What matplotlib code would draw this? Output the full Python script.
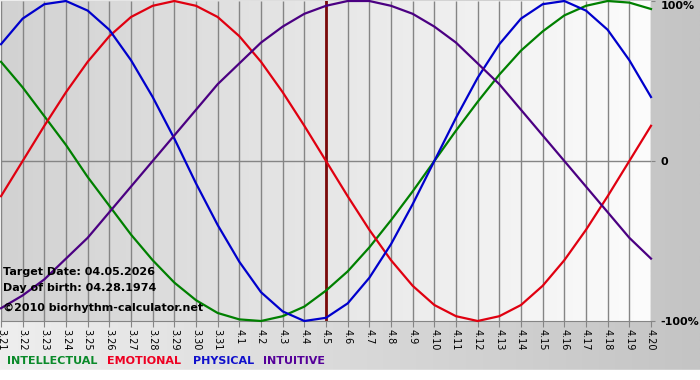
import numpy as np
import matplotlib.pyplot as plt
from matplotlib.colors import LinearSegmentedColormap

# days shown on the x axis (3.21 .. 4.20)
days = ['3.21', '3.22', '3.23', '3.24', '3.25', '3.26', '3.27', '3.28', '3.29', '3.30', '3.31',
        '4.1', '4.2', '4.3', '4.4', '4.5', '4.6', '4.7', '4.8', '4.9', '4.10',
        '4.11', '4.12', '4.13', '4.14', '4.15', '4.16', '4.17', '4.18', '4.19', '4.20']

# cycle values, -1 .. 1 (one per day)
intellectual = [0.62, 0.46, 0.28, 0.10, -0.10, -0.28, -0.46, -0.62, -0.76, -0.87, -0.95,
                -0.99, -1.00, -0.97, -0.91, -0.81, -0.69, -0.54, -0.37, -0.19, 0.00,
                0.19, 0.37, 0.54, 0.69, 0.81, 0.91, 0.97, 1.00, 0.99, 0.95]
emotional = [-0.22, 0.00, 0.22, 0.43, 0.62, 0.78, 0.90, 0.97, 1.00, 0.97, 0.90,
             0.78, 0.62, 0.43, 0.22, 0.00, -0.22, -0.43, -0.62, -0.78, -0.90,
             -0.97, -1.00, -0.97, -0.90, -0.78, -0.62, -0.43, -0.22, 0.00, 0.22]
physical = [0.73, 0.89, 0.98, 1.00, 0.94, 0.82, 0.63, 0.40, 0.14, -0.14, -0.40,
            -0.63, -0.82, -0.94, -1.00, -0.98, -0.89, -0.73, -0.52, -0.27, 0.00,
            0.27, 0.52, 0.73, 0.89, 0.98, 1.00, 0.94, 0.82, 0.63, 0.40]
intuitive = [-0.92, -0.84, -0.74, -0.61, -0.48, -0.32, -0.16, 0.00, 0.16, 0.32, 0.48,
             0.61, 0.74, 0.84, 0.92, 0.97, 1.00, 1.00, 0.97, 0.92, 0.84,
             0.74, 0.61, 0.48, 0.32, 0.16, 0.00, -0.16, -0.32, -0.48, -0.61]

target_day = '4.5'
info_lines = ['Target Date: 04.05.2026', 'Day of birth: 04.28.1974', '\u00a92010 biorhythm-calculator.net']
legend_names = ['INTELLECTUAL', 'EMOTIONAL', 'PHYSICAL', 'INTUITIVE']

W, H = 700, 380
fig = plt.figure(figsize=(W / 100, H / 100), dpi=100)

# outer background: light on the left, gray on the right, white strip at bottom
bg = fig.add_axes([0, 0, 1, 1])
bg.axis('off')
outer = LinearSegmentedColormap.from_list('outer', ['#eeeeee', '#c4c4c4'])
bg.imshow(np.linspace(0, 1, 256)[None, :], extent=[0, 1, 0, 1], aspect='auto', cmap=outer)
bg.axhspan(0, 10 / H, color='white')
bg.set_xlim(0, 1)
bg.set_ylim(0, 1)

ax = fig.add_axes([1 / W, 59 / H, 650 / W, 320 / H])
x = np.arange(len(days))
ax.set_xlim(0, len(days) - 1)
ax.set_ylim(-1, 1)

inner = LinearSegmentedColormap.from_list('inner', ['#d2d2d2', '#fcfcfc'])
ax.imshow(np.linspace(0, 1, 256)[None, :], extent=[0, len(days) - 1, -1, 1],
          aspect='auto', cmap=inner, zorder=0)

ax.vlines(x, -1, 1, color='#858585', lw=1, zorder=1)
ax.axhline(0, color='#858585', lw=1, zorder=1)
ax.axvline(days.index(target_day), color='#7a0a0a', lw=2, zorder=2)

ax.plot(x, intellectual, color='#008000', lw=1.6, zorder=3, clip_on=False)
ax.plot(x, emotional, color='#e00010', lw=1.6, zorder=3, clip_on=False)
ax.plot(x, physical, color='#0000cc', lw=1.6, zorder=3, clip_on=False)
ax.plot(x, intuitive, color='#4b0082', lw=1.6, zorder=3, clip_on=False)

for s in ['top', 'left', 'right']:
    ax.spines[s].set_visible(False)
ax.spines['bottom'].set_color('#858585')

ax.set_xticks(x)
ax.set_xticklabels(days, rotation=270, fontsize=7, va='top', ha='center')
ax.tick_params(axis='x', length=4, color='#858585', pad=2)

ax.yaxis.tick_right()
ax.set_yticks([-1, 0, 1])
ax.set_yticklabels(['-100%', '0', '100%'], fontsize=8, fontweight='bold')
ax.tick_params(axis='y', length=3, color='#858585', pad=4)
ylabels = ax.get_yticklabels()
ylabels[2].set_va('top')

for i, line in enumerate(info_lines):
    fig.text(3 / W, 1 - (272 + i * 16 + (4 if i == 2 else 0)) / H, line,
             fontsize=8, fontweight='bold', va='center', ha='left', zorder=10)

legend_colors = ['#0a8a2a', '#ee0022', '#1010cc', '#550099']
legend_x = [7, 107, 193, 263]
for name, c, lx in zip(legend_names, legend_colors, legend_x):
    fig.text(lx / W, 1 - 361 / H, name, color=c, fontsize=8, fontweight='bold',
             va='center', ha='left')

fig.savefig('out.png', dpi=100)
